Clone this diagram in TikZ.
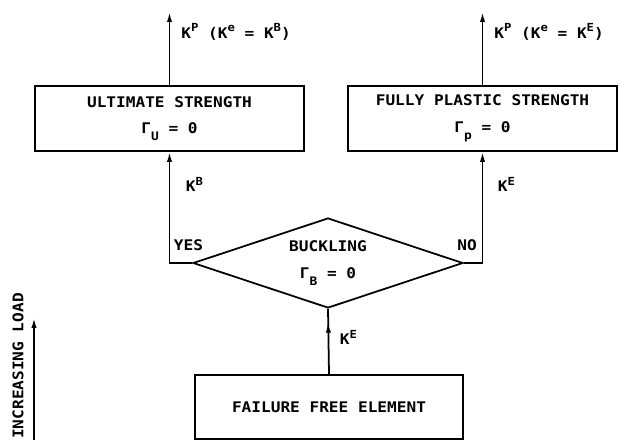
\documentclass[tikz,border=0pt]{standalone}
\usepackage{fontspec}
\setmainfont[FakeStretch=1.1]{DejaVu Sans Mono}
\usetikzlibrary{arrows.meta,shapes.geometric,decorations.markings}
\newcommand{\sps}[1]{\raisebox{0.75ex}{\fontsize{9.5}{10}\selectfont #1}}
\newcommand{\sbs}[1]{\raisebox{-0.9ex}{\fontsize{10}{10}\selectfont #1}}

\begin{document}
\begin{tikzpicture}[x=0.03cm, y=-0.03cm, line width=1.5pt, >={Latex[length=8.5pt,width=4.5pt]},
    font=\fontsize{12.5}{22.6}\selectfont\bfseries,
    box/.style={draw, rectangle, minimum width=8.07cm, minimum height=1.95cm, align=center, inner sep=0pt},
    lbl/.style={inner sep=0pt}]
  \useasboundingbox (0,0) rectangle (624,439);
  \clip (0,0) rectangle (624,439);
  \foreach \nm/\xo/\ttl/\lo/\hi in {ult/169.5/ULTIMATE STRENGTH/U/B, fps/482.5/FULLY PLASTIC STRENGTH/p/E} {
    \node[box] (\nm) at (\xo,118.5) {\ttl\\Γ\sbs{\lo} = 0};
    \coordinate (\nm out) at (\xo,12);
    \draw[->] (\nm.north) -- (\nm out);
    \node[lbl, anchor=base west] (\nm lab) at (\xo+11,38) {K\sps{P} (K\sps{e} = K\sps{\hi})};
  }
  \node[draw, diamond, aspect=3, minimum width=8.1cm, minimum height=2.7cm, inner sep=0pt, align=center] (buck) at (328,263) {BUCKLING\\Γ\sbs{B} = 0};
  \node[box, minimum width=8.04cm, minimum height=1.92cm] (free) at (329,407) {FAILURE FREE ELEMENT};
  \draw[->] (buck.west) -| (ult.south);
  \draw[->] (buck.east) -| (fps.south);
  \draw[postaction={decorate}, decoration={markings, mark=at position 0.79 with {\arrow{>}}}] (free.north) -- (buck.south);
  \node[lbl] (yes) at (188.5,245) {YES};
  \node[lbl] (no) at (467,245) {NO};
  \node[lbl, anchor=west] (kb) at (185,184) {K\sps{B}};
  \node[lbl, anchor=west] (ke) at (497,184) {K\sps{E}};
  \node[lbl, anchor=west] (kf) at (339,337) {K\sps{E}};
  \coordinate (ld0) at (34,445);
  \coordinate (ld1) at (34,318);
  \draw[->] (ld0) -- (ld1);
  \node[lbl, rotate=90] (load) at (18,366) {INCREASING LOAD};
\end{tikzpicture}
\end{document}
